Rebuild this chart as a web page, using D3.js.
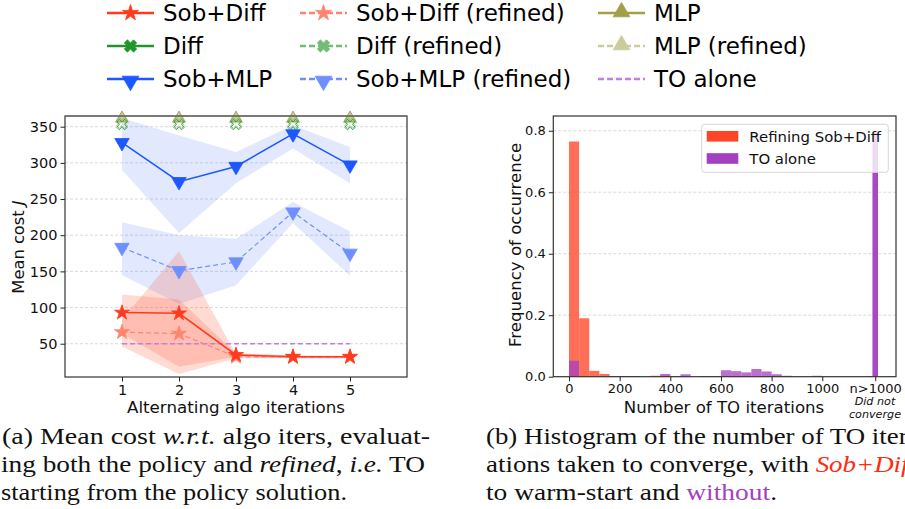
<!DOCTYPE html>
<html><head><meta charset="utf-8">
<script src="https://cdn.jsdelivr.net/npm/d3@7"></script>
<style>body{margin:0;background:#fff}svg{display:block}</style>
</head><body>
<script>
// ---------- DATA ----------
const iters = [1, 2, 3, 4, 5];
const sobDiff      = [93, 92, 34.5, 32, 32];
const sobDiffLo    = [64, 18, 32, 30, 30];
const sobDiffHi    = [118, 111, 37, 34, 33];
const sobDiffRef   = [66, 64, 32, 31.5, 31.5];
const sobDiffRefLo = [46, 8, 30, 30, 30];
const sobDiffRefHi = [83, 178, 35, 33, 33];
const sobMLP       = [328, 274, 295, 340, 297];
const sobMLPLo     = [290, 203, 272, 320, 272];
const sobMLPHi     = [362, 338, 315, 352, 322];
const sobMLPRef    = [183, 151, 163, 232, 175];
const sobMLPRefLo  = [145, 105, 131, 217, 144];
const sobMLPRefHi  = [218, 200, 195, 246, 205];
const diffVals     = [353, 353, 353, 353, 353];
const diffRefVals  = [355, 355, 355, 355, 355];
const mlpVals      = [362, 362, 362, 362, 362];
const mlpRefVals   = [361, 361, 361, 361, 361];
const toAlone      = 50;
const yTicksL = [50, 100, 150, 200, 250, 300, 350];

const binLeft = [0,40,80,120,160,200,240,280,320,360,400,440,480,520,560,600,640,680,720,760,800,840,880,920,960];
const binWidth = 40;
const redFreq    = [0.765,0.19,0.019,0.009,0.002,0.002,0.002,0,0.003,0.003,0.002,0.002,0,0,0,0,0,0,0,0,0,0,0,0,0];
const purpleFreq = [0.052,0,0,0,0.002,0.002,0.002,0,0,0.009,0,0.008,0,0.002,0.002,0.021,0.018,0.014,0.025,0.017,0.008,0.003,0,0,0.003];
const dnfBin = [1198, 1220];
const dnfRed = 0.002, dnfPurple = 0.795;
const xTicksR = [0, 200, 400, 600, 800, 1000, 1209];
const xTickLabelsR = ["0","200","400","600","800","1000","n>1000"];
const yTicksR = [0, 0.2, 0.4, 0.6, 0.8];

// ---------- STYLE ----------
const C = {
  sobDiff: "#ff3a1c", sobDiffRef: "#ff8470",
  diff: "#22962a", diffRef: "#72bd72",
  sobMLP: "#1c57ff", sobMLPRef: "#6f8fff",
  mlp: "#a2a046", mlpRef: "#cccb9c",
  to: "#c47ee0",
  histRed: "#ff4527", histPurple: "#a43fbf"
};
const FONT = "DejaVu Sans, sans-serif";
const SERIF = "'Liberation Serif', 'DejaVu Serif', serif";

const svg = d3.select("body").append("svg").attr("width", 905).attr("height", 509);
svg.append("rect").attr("width",905).attr("height",509).attr("fill","#fff");

function marker(g, type, x, y, size, fill, stroke) {
  let sym, rot = 0;
  if (type === "star") sym = d3.symbolStar;
  else if (type === "x") { sym = d3.symbolCross; rot = 45; }
  else if (type === "v") { sym = d3.symbolTriangle; rot = 180; }
  else if (type === "^") sym = d3.symbolTriangle;
  g.append("path").attr("d", d3.symbol().type(sym).size(size)())
    .attr("transform", `translate(${x},${y}) rotate(${rot})`)
    .attr("fill", fill).attr("stroke", stroke || fill).attr("stroke-width", 0.8);
}

// ---------- TOP LEGEND ----------
const legendItems = [
  {label:"Sob+Diff", col:0,row:0,color:C.sobDiff,dash:null,m:"star"},
  {label:"Diff", col:0,row:1,color:C.diff,dash:null,m:"x"},
  {label:"Sob+MLP", col:0,row:2,color:C.sobMLP,dash:null,m:"v"},
  {label:"Sob+Diff (refined)", col:1,row:0,color:C.sobDiffRef,dash:"6,3",m:"star"},
  {label:"Diff (refined)", col:1,row:1,color:C.diffRef,dash:"6,3",m:"x"},
  {label:"Sob+MLP (refined)", col:1,row:2,color:C.sobMLPRef,dash:"6,3",m:"v"},
  {label:"MLP", col:2,row:0,color:C.mlp,dash:null,m:"^"},
  {label:"MLP (refined)", col:2,row:1,color:C.mlpRef,dash:"6,3",m:"^"},
  {label:"TO alone", col:2,row:2,color:C.to,dash:"6,3",m:null}
];
const colX = [107, 300, 598], rowY = [13, 46, 79];
const lg = svg.append("g");
legendItems.forEach(d => {
  const x0 = colX[d.col], y0 = rowY[d.row];
  lg.append("line").attr("x1",x0).attr("x2",x0+47).attr("y1",y0).attr("y2",y0)
    .attr("stroke",d.color).attr("stroke-width",2.6).attr("stroke-dasharray",d.dash);
  if (d.m) marker(lg, d.m, x0+23.5, y0 + (d.m==="v"?2:(d.m==="^"?-1:0)), d.m==="x"?95:(d.m==="star"?80:120), d.color);
  lg.append("text").attr("x", x0+56).attr("y", y0).attr("dy","0.36em")
    .attr("font-family",FONT).attr("font-size","23px").attr("fill","#000").text(d.label);
});

// ---------- LEFT CHART ----------
const xL = d3.scaleLinear().domain([0, 6]).range([65, 407]);
const yL = d3.scaleLinear().domain([4, 364.8]).range([377, 116]);
const gL = svg.append("g");

gL.append("g").selectAll("line").data(yTicksL).join("line")
  .attr("x1",65).attr("x2",407).attr("y1",d=>yL(d)).attr("y2",d=>yL(d))
  .attr("stroke","#cfcfcf").attr("stroke-width",0.8).attr("stroke-dasharray","3,2");

function band(lo, hi, color, op) {
  const area = d3.area().x((d,i)=>xL(iters[i])).y0((d,i)=>yL(lo[i])).y1((d,i)=>yL(hi[i]));
  gL.append("path").attr("d", area(iters)).attr("fill", color).attr("fill-opacity", op);
}
band(sobMLPLo, sobMLPHi, "#3a6af7", 0.15);
band(sobMLPRefLo, sobMLPRefHi, "#3a6af7", 0.15);
band(sobDiffLo, sobDiffHi, "#ff4a2a", 0.2);
band(sobDiffRefLo, sobDiffRefHi, "#ff4a2a", 0.2);

// TO alone line
gL.append("line").attr("x1",xL(1)).attr("x2",xL(5)).attr("y1",yL(toAlone)).attr("y2",yL(toAlone))
  .attr("stroke",C.to).attr("stroke-width",1.4).attr("stroke-dasharray","5,3");

function series(vals, color, dash, m, msize, w) {
  const line = d3.line().x((d,i)=>xL(iters[i])).y(d=>yL(d));
  gL.append("path").attr("d", line(vals)).attr("fill","none").attr("stroke",color)
    .attr("stroke-width", w||1.5).attr("stroke-dasharray", dash);
  vals.forEach((v,i)=> marker(gL, m, xL(iters[i]), yL(v), msize, color));
}
series(sobMLP, C.sobMLP, null, "v", 90);
series(sobMLPRef, C.sobMLPRef, "5,3", "v", 90, 1.2);
series(sobDiffRef, C.sobDiffRef, "5,3", "star", 70, 1.2);
series(sobDiff, C.sobDiff, null, "star", 70);

// markers at top (Diff & MLP)
iters.forEach((it,i)=>{
  marker(gL, "^", xL(it), yL(mlpRefVals[i]), 80, C.mlpRef, C.mlpRef);
  marker(gL, "^", xL(it), yL(mlpVals[i]), 60, "none", C.mlp);
  marker(gL, "x", xL(it), yL(diffRefVals[i]), 70, "none", C.diffRef);
  marker(gL, "x", xL(it), yL(diffVals[i]), 70, "none", C.diff);
});

// axes
const axL = gL.append("g").attr("transform","translate(65,0)")
  .call(d3.axisLeft(yL).tickValues(yTicksL).tickSize(4.5).tickPadding(3));
const axB = gL.append("g").attr("transform","translate(0,377)")
  .call(d3.axisBottom(xL).tickValues(iters).tickSize(4.5).tickPadding(3).tickFormat(d3.format("d")));
[axL, axB].forEach(a=>{
  a.select(".domain").remove();
  a.selectAll("line").attr("stroke","#222").attr("stroke-width",1);
  a.selectAll("text").attr("font-family",FONT).attr("font-size","14.5px").attr("fill","#111");
});
gL.append("rect").attr("x",65).attr("y",116).attr("width",342).attr("height",261)
  .attr("fill","none").attr("stroke","#333").attr("stroke-width",1.2);
gL.append("line").attr("x1",65).attr("x2",407).attr("y1",116).attr("y2",116)
  .attr("stroke","#777").attr("stroke-width",1.6);

gL.append("text").attr("x",236).attr("y",407).attr("dy","0.36em").attr("text-anchor","middle")
  .attr("font-family",FONT).attr("font-size","16.7px").attr("fill","#111").text("Alternating algo iterations");
const ylab = gL.append("text").attr("transform","translate(18,247) rotate(-90)").attr("text-anchor","middle")
  .attr("dy","0.36em").attr("font-family",FONT).attr("font-size","16.3px").attr("fill","#111");
ylab.append("tspan").text("Mean cost ");
ylab.append("tspan").attr("font-style","italic").text("J");

// ---------- RIGHT CHART ----------
const xR = d3.scaleLinear().domain([-62, 1291]).range([553.3, 896]);
const yR = d3.scaleLinear().domain([0, 0.848]).range([376.7, 116]);
const gR = svg.append("g");
gR.append("g").selectAll("line").data(yTicksR.slice(1)).join("line")
  .attr("x1",553.3).attr("x2",896).attr("y1",d=>yR(d)).attr("y2",d=>yR(d))
  .attr("stroke","#cfcfcf").attr("stroke-width",0.8).attr("stroke-dasharray","3,2");

gR.append("g").selectAll("rect").data(binLeft.map((b,i)=>({b,v:redFreq[i]})).concat([{b:dnfBin[0]-14,w:13,v:dnfRed}]))
  .join("rect").attr("x",d=>xR(d.b)).attr("width",d=>xR(d.b+(d.w||binWidth))-xR(d.b))
  .attr("y",d=>yR(d.v)).attr("height",d=>yR(0)-yR(d.v)).attr("fill",C.histRed).attr("fill-opacity",0.78);
gR.append("g").selectAll("rect").data(binLeft.map((b,i)=>({b,v:purpleFreq[i]})))
  .join("rect").attr("x",d=>xR(d.b)).attr("width",d=>xR(d.b+binWidth)-xR(d.b))
  .attr("y",d=>yR(d.v)).attr("height",d=>yR(0)-yR(d.v)).attr("fill",C.histPurple).attr("fill-opacity",0.75);
gR.append("rect").attr("x",xR(dnfBin[0])).attr("width",xR(dnfBin[1])-xR(dnfBin[0]))
  .attr("y",yR(dnfPurple)).attr("height",yR(0)-yR(dnfPurple)).attr("fill",C.histPurple).attr("fill-opacity",0.95);

const axRL = gR.append("g").attr("transform","translate(553.3,0)")
  .call(d3.axisLeft(yR).tickValues(yTicksR).tickSize(4.5).tickPadding(3).tickFormat(d3.format(".1f")));
const axRB = gR.append("g").attr("transform","translate(0,376.7)")
  .call(d3.axisBottom(xR).tickValues(xTicksR).tickSize(4.5).tickPadding(2.5).tickFormat((d,i)=>xTickLabelsR[i]));
[axRL, axRB].forEach(a=>{
  a.select(".domain").remove();
  a.selectAll("line").attr("stroke","#222").attr("stroke-width",1);
  a.selectAll("text").attr("font-family",FONT).attr("font-size","13px").attr("fill","#111");
});
gR.append("rect").attr("x",553.3).attr("y",116).attr("width",342.7).attr("height",260.7)
  .attr("fill","none").attr("stroke","#333").attr("stroke-width",1.2);

gR.append("text").attr("x",724).attr("y",407).attr("dy","0.36em").attr("text-anchor","middle")
  .attr("font-family",FONT).attr("font-size","16.6px").attr("fill","#111").text("Number of TO iterations");
gR.append("text").attr("x",875).attr("y",401).attr("dy","0.36em").attr("text-anchor","middle")
  .attr("font-family",FONT).attr("font-size","11.2px").attr("font-style","italic").attr("fill","#111").text("Did not");
gR.append("text").attr("x",875).attr("y",414).attr("dy","0.36em").attr("text-anchor","middle")
  .attr("font-family",FONT).attr("font-size","11.2px").attr("font-style","italic").attr("fill","#111").text("converge");
gR.append("text").attr("transform","translate(515,245) rotate(-90)").attr("text-anchor","middle")
  .attr("dy","0.36em").attr("font-family",FONT).attr("font-size","16.6px").attr("fill","#111").text("Frequency of occurrence");

// right legend
const rl = gR.append("g");
rl.append("rect").attr("x",701.7).attr("y",124.3).attr("width",186.6).attr("height",48).attr("rx",3)
  .attr("fill","#fff").attr("fill-opacity",0.8).attr("stroke","#d6d6d6").attr("stroke-width",1);
[["Refining Sob+Diff", C.histRed, 136.3], ["TO alone", C.histPurple, 158.5]].forEach(([t,c,y])=>{
  rl.append("rect").attr("x",706.7).attr("y",y-5.3).attr("width",31.6).attr("height",10.6).attr("fill",c);
  rl.append("text").attr("x",749.3).attr("y",y).attr("dy","0.36em").attr("font-family",FONT)
    .attr("font-size","14.9px").attr("fill","#111").text(t);
});

// ---------- CAPTIONS ----------
function capLine(x, y, len, parts, adjust) {
  const t = svg.append("text").attr("x",x).attr("y",y).attr("font-family",SERIF).attr("font-size","22.5px")
    .attr("fill","#111").attr("textLength",len).attr("lengthAdjust",adjust||"spacingAndGlyphs");
  parts.forEach(p=>{
    const s = t.append("tspan").text(p.t);
    if (p.i) s.attr("font-style","italic");
    if (p.c) s.attr("fill",p.c);
  });
}
capLine(2, 444, 428, [{t:"(a) Mean cost "},{t:"w.r.t.",i:1},{t:" algo iters, evaluat-"}]);
capLine(1, 472, 424, [{t:"ing both the policy and "},{t:"refined",i:1},{t:", "},{t:"i.e.",i:1},{t:" TO"}]);
capLine(1, 499.5, 346, [{t:"starting from the policy solution."}]);
capLine(486, 444, 430, [{t:"(b) Histogram of the number of TO iter-"}]);
capLine(486, 472, 430, [{t:"ations taken to converge, with "},{t:"Sob+Diff",i:1,c:"#ff2a10"}]);
capLine(486, 499.5, 291, [{t:"to warm-start and "},{t:"without",c:"#a43fbf"},{t:"."}]);
</script>
</body></html>
